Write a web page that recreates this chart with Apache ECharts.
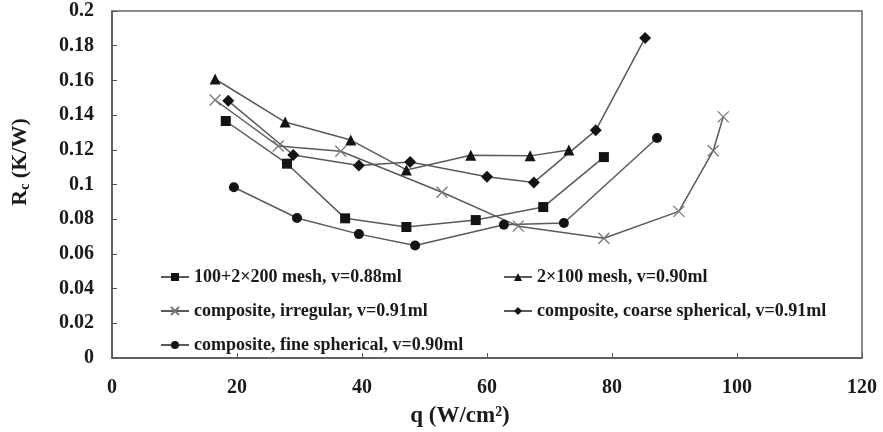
<!DOCTYPE html>
<html>
<head>
<meta charset="utf-8">
<script src="https://cdn.jsdelivr.net/npm/echarts@6/dist/echarts.min.js"></script>
<style>html,body{margin:0;padding:0;background:#fff}#c{width:883px;height:432px}</style>
</head>
<body>
<div id="c"></div>
<script>
// Data: [q (W/cm2), Rc (K/W)]
const seriesNames = [
  '100+2×200 mesh, v=0.88ml',
  '2×100 mesh, v=0.90ml',
  'composite, irregular, v=0.91ml',
  'composite, coarse spherical, v=0.91ml',
  'composite, fine spherical, v=0.90ml'
];
const meshA = [[18.2,0.1366],[28.0,0.112],[37.3,0.0805],[47.1,0.0755],[58.2,0.0795],[69.0,0.087],[78.7,0.1158]];
const meshB = [[16.5,0.1608],[27.7,0.1360],[38.2,0.1256],[47.1,0.1084],[57.4,0.1168],[66.9,0.1165],[73.1,0.1199]];
const irregular = [[16.5,0.1487],[26.6,0.1222],[36.6,0.1192],[52.8,0.0955],[65.0,0.0760],[78.7,0.0690],[90.7,0.0845],[96.2,0.1195],[97.8,0.1390]];
const coarse = [[18.6,0.1482],[29.0,0.1170],[39.5,0.1110],[47.7,0.1130],[60.0,0.1045],[67.5,0.1012],[77.4,0.1312],[85.3,0.1845]];
const fine = [[19.5,0.0984],[29.6,0.0807],[39.5,0.0714],[48.5,0.0648],[62.7,0.0768],[72.3,0.0778],[87.2,0.1268]];
const xTicks = {min: 0, max: 120, interval: 20};
const yTicks = {min: 0, max: 0.2, interval: 0.02};

const FONT = '"Liberation Serif", "Times New Roman", serif';
const lineColor = '#5a5a5a';
const mk = '#141414';
const crossPath = 'path://M0,0L10,10M10,0L0,10';

function line(name, data, symbol, size, extra) {
  return Object.assign({
    name: name, type: 'line', data: data,
    symbol: symbol, symbolSize: size,
    lineStyle: {color: lineColor, width: 1.5},
    itemStyle: {color: mk},
    emphasis: {disabled: true},
    animation: false
  }, extra || {});
}

const legendText = {color: '#1a1a1a', fontFamily: FONT, fontWeight: 'bold', fontSize: 18};

const chart = echarts.init(document.getElementById('c'), null, {renderer: 'canvas'});
chart.setOption({
  animation: false,
  backgroundColor: '#fff',
  grid: {left: 112, right: 21, top: 11, bottom: 74, show: true, borderColor: '#666', borderWidth: 1.5, backgroundColor: 'transparent'},
  xAxis: {
    type: 'value', min: xTicks.min, max: xTicks.max, interval: xTicks.interval,
    axisLine: {show: true, onZero: false, lineStyle: {color: '#555', width: 1.5}},
    axisTick: {show: true, inside: true, length: 5, lineStyle: {color: '#555'}},
    splitLine: {show: false},
    axisLabel: {color: '#1a1a1a', fontFamily: FONT, fontWeight: 'bold', fontSize: 20, margin: 20}
  },
  yAxis: {
    type: 'value', min: yTicks.min, max: yTicks.max, interval: yTicks.interval,
    axisLine: {show: true, onZero: false, lineStyle: {color: '#555', width: 1.5}},
    axisTick: {show: true, inside: true, length: 5, lineStyle: {color: '#555'}},
    splitLine: {show: false},
    axisLabel: {color: '#1a1a1a', fontFamily: FONT, fontWeight: 'bold', fontSize: 20, margin: 18}
  },
  legend: [
    {
      data: [seriesNames[0], seriesNames[2], seriesNames[4]],
      orient: 'vertical', left: 160, top: 268, itemGap: 16, padding: 0,
      itemWidth: 28, itemHeight: 10, selectedMode: false,
      textStyle: legendText
    },
    {
      data: [seriesNames[1], seriesNames[3]],
      orient: 'vertical', left: 503, top: 268, itemGap: 16, padding: 0,
      itemWidth: 28, itemHeight: 10, selectedMode: false,
      textStyle: legendText
    }
  ],
  graphic: [
    {
      type: 'text', x: 20, y: 162, rotation: Math.PI / 2,
      style: {
        text: '{a|R}{s|c}{a| (K/W)}', align: 'center', verticalAlign: 'middle',
        rich: {
          a: {fontFamily: FONT, fontWeight: 'bold', fontSize: 22, fill: '#1a1a1a'},
          s: {fontFamily: FONT, fontWeight: 'bold', fontSize: 14, fill: '#1a1a1a', padding: [10, 0, 0, 0]}
        }
      }
    },
    {
      type: 'text', x: 460, y: 416,
      style: {
        text: 'q (W/cm²)', align: 'center', verticalAlign: 'middle',
        fontFamily: FONT, fontWeight: 'bold', fontSize: 23, fill: '#1a1a1a'
      }
    }
  ],
  series: [
    line(seriesNames[0], meshA, 'rect', 10),
    line(seriesNames[1], meshB, 'triangle', 11),
    line(seriesNames[2], irregular, crossPath, 11, {itemStyle: {color: '#777', borderColor: '#777', borderWidth: 1.3}}),
    line(seriesNames[3], coarse, 'diamond', 12),
    line(seriesNames[4], fine, 'circle', 10)
  ]
});
</script>
</body>
</html>
